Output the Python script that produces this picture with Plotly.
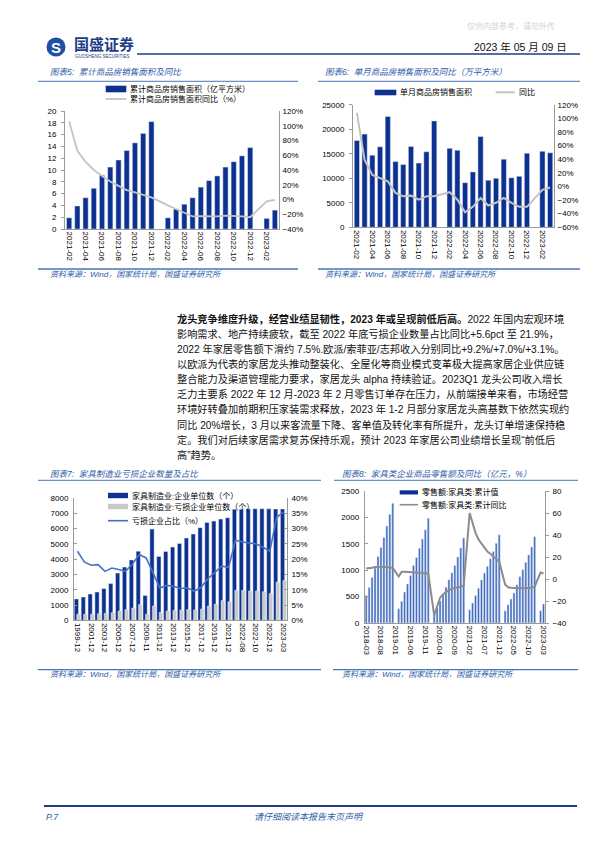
import plotly.graph_objects as go

W, H = 600, 851


def px(x):
    return x / W


def py(y):
    return 1 - y / H


FONT = "Liberation Sans, Noto Sans CJK SC, sans-serif"
CJK = "Liberation Sans, Noto Sans CJK SC, sans-serif"
TBLUE = "#2f5ca8"
DARK = "#0d3191"

# ---------------- Chart 5 data ----------------
months5 = ["2021-02", "2021-03", "2021-04", "2021-05", "2021-06", "2021-07", "2021-08", "2021-09",
           "2021-10", "2021-11", "2021-12", "2022-01", "2022-02", "2022-03", "2022-04", "2022-05",
           "2022-06", "2022-07", "2022-08", "2022-09", "2022-10", "2022-11", "2022-12", "2023-01",
           "2023-02", "2023-03"]
area5 = [1.9, 3.9, 5.3, 6.9, 9.1, 10.5, 11.7, 13.3, 14.6, 16.2, 18.2, None, 1.9, 3.4, 4.2, 5.3,
         7.1, 8.2, 9.0, 10.5, 11.4, 12.4, 13.8, None, 1.8, 3.2]
yoy5 = [106, 66, 51, 40, 32, 24.5, 18.5, 12.7, 9.6, 6.0, 2.8, None, -8, -13, -19, -23,
        -22.5, -23, -23, -22, -22, -23, -24, None, -2.5, -0.5]
ticks5 = months5[::2]

# ---------------- Chart 6 data ----------------
months6 = months5
area6 = [17700, 19000, 14700, 16400, 22600, 13400, 12800, 16500, 13100, 15400, 21700, None,
         16100, 15700, 9100, 11300, 18500, 9600, 10000, 13900, 10100, 10400, 15100, None,
         15500, 15200]
yoy6 = [108, 39, 17, 12, 7.5, -9.5, -14.5, -13.5, -19.5, -14.5, -14.5, None, -8.5, -19.5, -38,
        -30, -17, -28, -24, -17, -24, -30, -30, None, -5, -1.5]
ticks6 = months6[::2]

# ---------------- Chart 7 data ----------------
periods7 = ["1999-12", "2000-12", "2001-12", "2002-12", "2003-12", "2004-12", "2005-12", "2006-12",
            "2007-12", "2008-12", "2009-11", "2010-12", "2011-12", "2012-12", "2013-12", "2014-12",
            "2015-12", "2016-12", "2017-12", "2018-12", "2019-12", "2020-12", "2021-12", "2022-07",
            "2022-08", "2022-09", "2022-10", "2022-11", "2022-12", "2023-02", "2023-03"]
firms7 = [1400, 1520, 1720, 1850, 2080, 2400, 3090, 3480, 3950, 4520, 1630, 5970, 4180, 4500,
          4790, 5020, 5380, 5640, 6060, 6400, 6490, 6620, 6710, 7270, 7270, 7290, 7300, 7300,
          7290, 7280, 7280]
loss7 = [400, 400, 400, 430, 460, 500, 610, 700, 800, 1040, 400, 940, 520, 610, 650, 680, 700,
         680, 740, 940, 1050, 1290, 1220, 1960, 1960, 1920, 1920, 1870, 1760, 2500, 2610]
ratio7 = [22.6, 19.1, 18.0, 18.2, 16.0, 17.1, 16.6, 16.0, 18.4, 21.5, 20.4, 15.5, 10.6, 11.4,
          11.1, 10.4, 10.6, 9.5, 10.8, 13.6, 15.5, 17.7, 17.3, 26.2, 25.6, 25.3, 25.0, 23.9,
          22.6, 33.7, 35.4]
ticks7 = periods7[::2]

# ---------------- Chart 8 data ----------------
months8 = ["2018-03", "2018-04", "2018-05", "2018-06", "2018-07", "2018-08", "2018-09", "2018-10",
           "2018-11", "2018-12",
           "2019-01", "2019-02", "2019-03", "2019-04", "2019-05", "2019-06", "2019-07", "2019-08",
           "2019-09", "2019-10", "2019-11", "2019-12",
           "2020-01", "2020-02", "2020-03", "2020-04", "2020-05", "2020-06", "2020-07", "2020-08",
           "2020-09", "2020-10", "2020-11", "2020-12",
           "2021-01", "2021-02", "2021-03", "2021-04", "2021-05", "2021-06", "2021-07", "2021-08",
           "2021-09", "2021-10", "2021-11", "2021-12",
           "2022-01", "2022-02", "2022-03", "2022-04", "2022-05", "2022-06", "2022-07", "2022-08",
           "2022-09", "2022-10", "2022-11", "2022-12",
           "2023-01", "2023-02", "2023-03"]
sales8 = [523, 674, 863, 1040, 1259, 1429, 1618, 1839, 2059, 2267,
          None, 270, 410, 585, 740, 900, 1090, 1240, 1415, 1590, 1765, 1985,
          None, 170, 290, 420, 550, 680, 820, 950, 1090, 1250, 1420, 1610,
          None, 250, 380, 520, 660, 815, 945, 1075, 1215, 1355, 1510, 1670,
          None, 230, 345, 455, 570, 725, 880, 1010, 1150, 1290, 1440, 1635,
          None, 232, 360]
yoy8 = [9.5, 9.7, 10.3, 10.8, 11.0, 11.0, 11.0, 10.8, 10.5, 10.1,
        None, 2.3, 6.5, 6.5, 6.3, 6.2, 6.0, 6.0, 5.8, 5.8, 5.7, 5.1,
        None, -33, -25, -17, -14, -12, -10, -9, -8, -7.5, -7, -6,
        None, 60, 50, 42, 36, 32.5, 28.5, 25, 23, 20.5, 18.3, 16,
        None, -5, -7.5, -8, -8.3, -8.3, -8.3, -8.3, -8.2, -8.2, -8, -7,
        None, 6.0, 5.0]
ticks8 = months8[::5]

# ---------------- Text ----------------
para = [
    "<b>龙头竞争维度升级，经营业绩显韧性，2023 年或呈现前低后高。</b>2022 年国内宏观环境",
    "影响需求、地产持续疲软，截至 2022 年底亏损企业数量占比同比+5.6pct 至 21.9%，",
    "2022 年家居零售额下滑约 7.5%.欧派/索菲亚/志邦收入分别同比+9.2%/+7.0%/+3.1%。",
    "以欧派为代表的家居龙头推动整装化、全屋化等商业模式变革极大提高家居企业供应链",
    "整合能力及渠道管理能力要求，家居龙头 alpha 持续验证。2023Q1 龙头公司收入增长",
    "乏力主要系 2022 年 12 月-2023 年 2 月零售订单存在压力，从前端接单来看，市场经营",
    "环境好转叠加前期积压家装需求释放，2023 年 1-2 月部分家居龙头高基数下依然实现约",
    "同比 20%增长，3 月以来客流量下降、客单值及转化率有所提升，龙头订单增速保持稳",
    "定。我们对后续家居需求复苏保持乐观，预计 2023 年家居公司业绩增长呈现“前低后",
    "高”趋势。",
]
source_text = "资料来源：Wind，国家统计局，国盛证券研究所"

fig = go.Figure()

# Chart 5 traces
fig.add_trace(go.Bar(x=months5, y=area5, xaxis="x", yaxis="y", marker_color=DARK, width=0.64,
                     showlegend=False, name="累计商品房销售面积（亿平方米）"))
fig.add_trace(go.Scatter(x=months5, y=yoy5, xaxis="x", yaxis="y2", mode="lines", connectgaps=True,
                         line=dict(color="#c4c4c4", width=1.8), showlegend=False,
                         name="累计商品房销售面积同比（%）"))
# Chart 6 traces
fig.add_trace(go.Bar(x=months6, y=area6, xaxis="x2", yaxis="y3", marker_color=DARK, width=0.68,
                     showlegend=False, name="单月商品房销售面积"))
fig.add_trace(go.Scatter(x=months6, y=yoy6, xaxis="x2", yaxis="y4", mode="lines", connectgaps=True,
                         line=dict(color="#c4c4c4", width=2), showlegend=False, name="同比"))
# Chart 7 traces
fig.add_trace(go.Bar(x=periods7, y=firms7, xaxis="x3", yaxis="y5", marker_color=DARK,
                     width=0.62, offset=-0.46, showlegend=False, name="家具制造业:企业单位数（个）"))
fig.add_trace(go.Bar(x=periods7, y=loss7, xaxis="x3", yaxis="y5", marker_color="#c9c9c9",
                     width=0.52, offset=-0.1, showlegend=False, name="家具制造业:亏损企业单位数（个）"))
fig.add_trace(go.Scatter(x=periods7, y=ratio7, xaxis="x3", yaxis="y6", mode="lines",
                         line=dict(color="#4472c4", width=1.6), showlegend=False, name="亏损企业占比（%）"))
# Chart 8 traces
fig.add_trace(go.Bar(x=months8, y=sales8, xaxis="x4", yaxis="y7", marker_color="#3f69bd",
                     width=0.68, showlegend=False, name="零售额:家具类:累计值"))
fig.add_trace(go.Scatter(x=months8, y=yoy8, xaxis="x4", yaxis="y8", mode="lines", connectgaps=True,
                         line=dict(color="#8c8c8c", width=2), showlegend=False, name="零售额:家具类:累计同比"))

AX = "#9a9a9a"


def xax(domain, anchor, cats, tv):
    return dict(domain=domain, anchor=anchor, type="category", categoryorder="array",
                categoryarray=cats, range=[-0.5, len(cats) - 0.5], tickmode="array",
                tickvals=tv, ticktext=tv, tickangle=90, showline=True, linecolor=AX,
                linewidth=1, ticks="", showgrid=False, zeroline=False, automargin=False,
                tickfont=dict(family=FONT, size=8, color="#000"), fixedrange=True)


def yax(domain, anchor, rng, dtick, side="left", overlaying=None, suffix="", ticks="outside",
        standoff=3):
    d = dict(domain=domain, anchor=anchor, range=rng, dtick=dtick, tick0=rng[0], side=side,
             showline=True, linecolor=AX, linewidth=1, ticks=ticks, ticklen=3, tickcolor=AX,
             showgrid=False, zeroline=False, ticksuffix=suffix, automargin=False,
             ticklabelstandoff=standoff, tickformat="d", separatethousands=False,
             tickfont=dict(family=FONT, size=8, color="#000"), fixedrange=True)
    if overlaying:
        d["overlaying"] = overlaying
    return d


d5x = [px(57), px(271)]
d5y = [py(221), py(103)]
d6x = [px(345), px(546)]
d6y = [py(219.3), py(96.7)]
d7x = [px(66), px(279)]
d7y = [py(612.3), py(490)]
d8x = [px(356.7), px(537)]
d8y = [py(615), py(483)]

layout = dict(
    width=W, height=H, margin=dict(l=0, r=0, t=0, b=0), paper_bgcolor="white",
    plot_bgcolor="rgba(0,0,0,0)", barmode="overlay", showlegend=False,
    font=dict(family=FONT, size=8, color="#000"),
    xaxis=xax(d5x, "y", months5, ticks5),
    yaxis=yax(d5y, "x", [0, 20], 2),
    yaxis2=yax(d5y, "x", [-40, 120], 20, side="right", overlaying="y", suffix="%", ticks="",
               standoff=1),
    xaxis2=xax(d6x, "y3", months6, ticks6),
    yaxis3=yax(d6y, "x2", [0, 25000], 5000),
    yaxis4=yax(d6y, "x2", [-60, 120], 20, side="right", overlaying="y3", suffix="%", ticks="",
               standoff=1),
    xaxis3=xax(d7x, "y5", periods7, ticks7),
    yaxis5=yax(d7y, "x3", [0, 8000], 1000, ticks="inside"),
    yaxis6=yax(d7y, "x3", [0, 40], 5, side="right", overlaying="y5", suffix="%", ticks="inside",
               standoff=2),
    xaxis4=xax(d8x, "y7", months8, ticks8),
    yaxis7=yax(d8y, "x4", [0, 2500], 500, ticks="inside"),
    yaxis8=yax(d8y, "x4", [-40, 80], 20, side="right", overlaying="y7", ticks="outside",
               standoff=2),
)
fig.update_layout(**layout)

shapes = []
ann = []


def hline(x0, x1, y, color, width):
    shapes.append(dict(type="line", xref="paper", yref="paper", x0=px(x0), x1=px(x1),
                       y0=py(y), y1=py(y), line=dict(color=color, width=width)))


def rect(x0, x1, y0, y1, color):
    shapes.append(dict(type="rect", xref="paper", yref="paper", x0=px(x0), x1=px(x1),
                       y0=py(y1), y1=py(y0), line=dict(width=0), fillcolor=color))


def text(x, y, s, size=8, color="#000", anchor="left", italic=False, family=CJK, weight=None):
    f = dict(family=family, size=size, color=color)
    if italic:
        f["style"] = "italic"
    if weight:
        f["weight"] = weight
    ann.append(dict(xref="paper", yref="paper", x=px(x), y=py(y), text=s, showarrow=False,
                    xanchor=anchor, yanchor="middle", font=f))


# Header
shapes.append(dict(type="circle", xref="paper", yref="paper", x0=px(38.5), x1=px(57.5),
                   y0=py(48.5), y1=py(29.5), fillcolor="#1f4fa3", line=dict(width=0)))
text(48, 39.3, "<b>S</b>", size=15, color="white", anchor="center", family="Liberation Sans")
text(64, 37, "<b>国盛证券</b>", size=15, color="#1d3c85")
text(65, 48, "GUOSHENG SECURITIES", size=4.5, color="#1d3c85", family="Liberation Sans")
text(503, 18, "仅供内部参考，请勿外传", size=8, color="#d4d4d4", anchor="center")
text(561, 39, "2023 年 05 月 09 日", size=10.5, color="#111", anchor="right")
hline(129, 572, 46, "#1d3c85", 1.6)

# Chart 5 title / source
text(40, 64.5, "图表5:  累计商品房销售面积及同比", size=8.5, color=TBLUE, italic=True)
hline(30, 290, 73.3, "#4a74b8", 1)
hline(30, 290, 261, "#4a74b8", 1.3)
text(40, 266.7, source_text, size=8, color=TBLUE, italic=True)
rect(97.7, 118.3, 77.7, 84.3, DARK)
text(119.5, 81, "累计商品房销售面积（亿平方米）", size=8)
hline(97.7, 118.3, 91, "#c4c4c4", 1.8)
text(119.5, 91.5, "累计商品房销售面积同比（%）", size=8)

# Chart 6 title / source
text(315, 64.5, "图表6:  单月商品房销售面积及同比（万平方米）", size=8.5, color=TBLUE, italic=True)
hline(310, 572, 73.3, "#4a74b8", 1)
hline(310, 572, 261, "#4a74b8", 1.3)
text(315, 266.7, source_text, size=8, color=TBLUE, italic=True)
rect(366.7, 388.3, 81.7, 87.3, DARK)
text(389.5, 84.5, "单月商品房销售面积", size=8)
hline(487.7, 506.7, 84.3, "#c4c4c4", 2)
text(508.5, 84.5, "同比", size=8)

# Paragraph
for i, line in enumerate(para):
    text(166.5, 310.8 + i * 15.1, line, size=10.2, color="#111")

# Chart 7 title / source
text(40, 465.7, "图表7:  家具制造业亏损企业数量及占比", size=8.5, color=TBLUE, italic=True)
hline(30, 313, 472.3, "#4a74b8", 1)
hline(30, 313, 661.7, "#4a74b8", 1.3)
text(40, 666.7, source_text, size=8, color=TBLUE, italic=True)
rect(100, 120, 484.8, 490.2, DARK)
text(121.7, 487.5, "家具制造业:企业单位数（个）", size=8)
rect(100, 120, 495.8, 501.2, "#c9c9c9")
text(121.7, 498.5, "家具制造业:亏损企业单位数（个）", size=8)
hline(100, 120, 512.7, "#4472c4", 1.6)
text(121.7, 513, "亏损企业占比（%）", size=8)

# Chart 8 title / source
text(331.7, 465.7, "图表8:  家具类企业商品零售额及同比（亿元，%）", size=8.5, color=TBLUE, italic=True)
hline(326, 570, 472.3, "#4a74b8", 1)
hline(325, 570, 661.7, "#4a74b8", 1.3)
text(331.7, 666.7, source_text, size=8, color=TBLUE, italic=True)
rect(391.7, 410, 482.3, 486.5, DARK)
text(411.7, 484.3, "零售额:家具类:累计值", size=8)
hline(391.7, 410, 496.7, "#8c8c8c", 1.6)
text(411.7, 497, "零售额:家具类:累计同比", size=8)

# Footer
hline(36, 569, 798, "#1d3c85", 1.8)
text(36, 808.5, "P.7", size=9, color=TBLUE, italic=True, family="Liberation Sans")
text(301, 808.5, "请仔细阅读本报告末页声明", size=9, color=TBLUE, italic=True, anchor="center")
hline(0, 600, 849.5, "#d0d0d0", 1)

fig.update_layout(shapes=shapes, annotations=ann)
fig.write_html("out.html")
